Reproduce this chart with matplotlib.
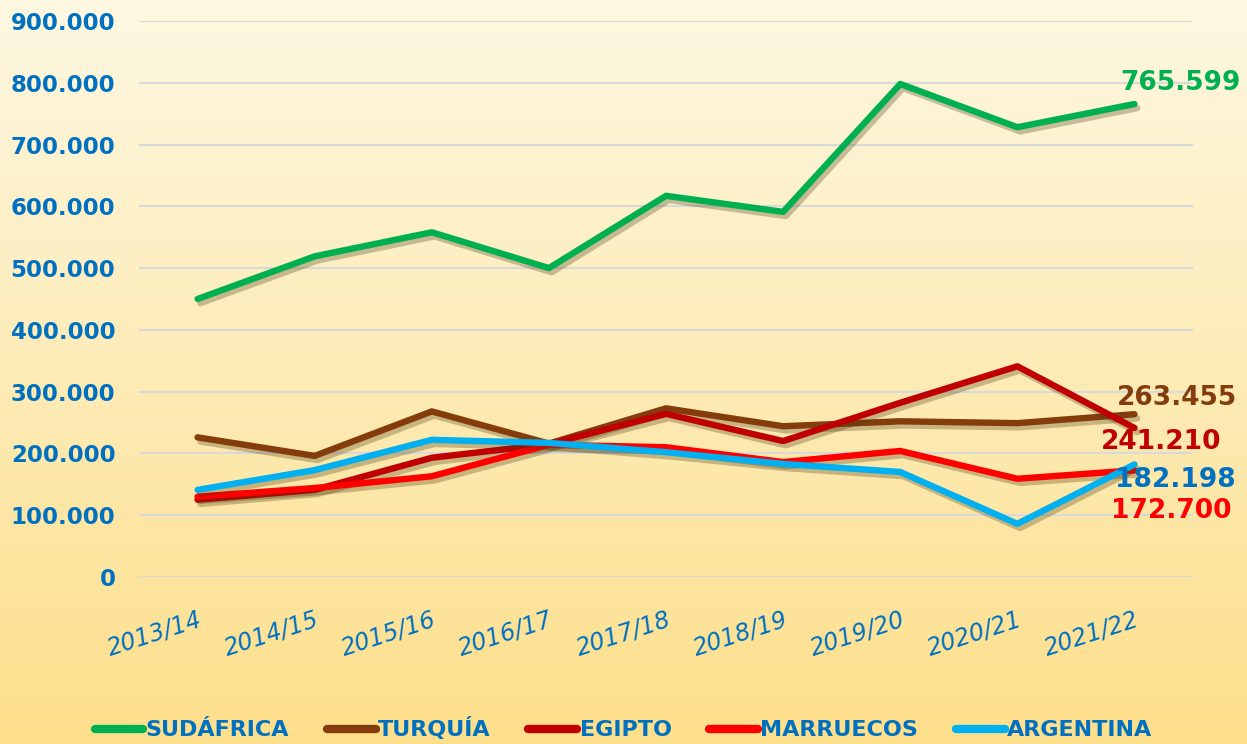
import matplotlib
matplotlib.use('Agg')
import matplotlib.pyplot as plt
import matplotlib.patheffects as pe
from matplotlib.colors import LinearSegmentedColormap
from matplotlib.ticker import FuncFormatter
import numpy as np

# Datos (toneladas por campaña)
campanas = ["2013/14", "2014/15", "2015/16", "2016/17", "2017/18",
            "2018/19", "2019/20", "2020/21", "2021/22"]
sudafrica = [450000, 519000, 558000, 500000, 617000, 591000, 798000, 728000, 765599]
turquia = [226000, 196000, 268000, 216000, 273000, 244000, 252000, 249000, 263455]
egipto = [125000, 141000, 193000, 215000, 264000, 220000, 282000, 341000, 241210]
marruecos = [130000, 144000, 163000, 214000, 210000, 186000, 204000, 159000, 172700]
argentina = [141000, 173000, 222000, 217000, 202000, 183000, 170000, 86000, 182198]

series = [
    ("SUDÁFRICA", sudafrica, "#00B050", "#00B050", (46, 21)),
    ("TURQUÍA", turquia, "#843C0C", "#843C0C", (43, 16)),
    ("EGIPTO", egipto, "#C00000", "#C00000", (27, -14)),
    ("MARRUECOS", marruecos, "#FF0000", "#FF0000", (37, -41)),
    ("ARGENTINA", argentina, "#00B0F0", "#0070C0", (41, -16)),
]

AZUL = "#0070C0"
plt.rcParams['font.family'] = ['DejaVu Sans']

fig = plt.figure(figsize=(12.47, 7.44), dpi=100)

# Fondo degradado
bg = fig.add_axes([0, 0, 1, 1], zorder=0)
cmap = LinearSegmentedColormap.from_list("fondo", ["#FEF8E2", "#FDDF8B"])
grad = np.linspace(0, 1, 256).reshape(-1, 1)
bg.imshow(grad, aspect='auto', cmap=cmap, extent=[0, 1, 0, 1], origin='upper')
bg.axis('off')

ax = fig.add_axes([0.1115, 0.2245, 0.8452, 0.7473], zorder=1)
ax.set_facecolor('none')

x = np.arange(len(campanas))
sombra = [pe.SimpleLineShadow(offset=(2, -3), shadow_color='#4a3a10', alpha=0.3), pe.Normal()]
for nombre, vals, color, color_txt, off in series:
    ax.plot(x, vals, color=color, lw=4.6, solid_capstyle='round', solid_joinstyle='round',
            label=nombre, path_effects=sombra, zorder=3)
    ax.annotate(f"{vals[-1]:,}".replace(",", "."), xy=(x[-1], vals[-1]),
                xytext=off, textcoords='offset pixels', ha='center', va='center',
                color=color_txt, fontsize=19, fontweight='bold', zorder=4)

ax.set_xlim(-0.5, len(campanas) - 0.5)
ax.set_ylim(0, 900000)
ax.set_yticks(range(0, 900001, 100000))
ax.yaxis.set_major_formatter(FuncFormatter(lambda v, p: f"{int(v):,}".replace(",", ".")))
ax.grid(axis='y', color='#D9D9D9', lw=1.5, zorder=1)
ax.set_axisbelow(True)
ax.set_xticks(x)
ax.set_xticklabels(campanas, rotation=18, ha='right', rotation_mode='anchor',
                   fontstyle='italic', fontsize=17)
ax.tick_params(axis='x', length=0, pad=22, colors=AZUL)
ax.tick_params(axis='y', length=0, pad=17, colors=AZUL, labelsize=16.5)
for lab in ax.get_yticklabels():
    lab.set_fontweight('bold')
for spine in ax.spines.values():
    spine.set_visible(False)

leg = fig.legend(loc='lower center', bbox_to_anchor=(0.5, -0.022), ncol=5, frameon=False,
                 fontsize=16, handlelength=2.2, columnspacing=1.7, handletextpad=0.1)
for t in leg.get_texts():
    t.set_color(AZUL)
    t.set_fontweight('bold')
for h in leg.get_lines():
    h.set_linewidth(6)
    h.set_path_effects([])

fig.savefig('out.png', dpi=100)
